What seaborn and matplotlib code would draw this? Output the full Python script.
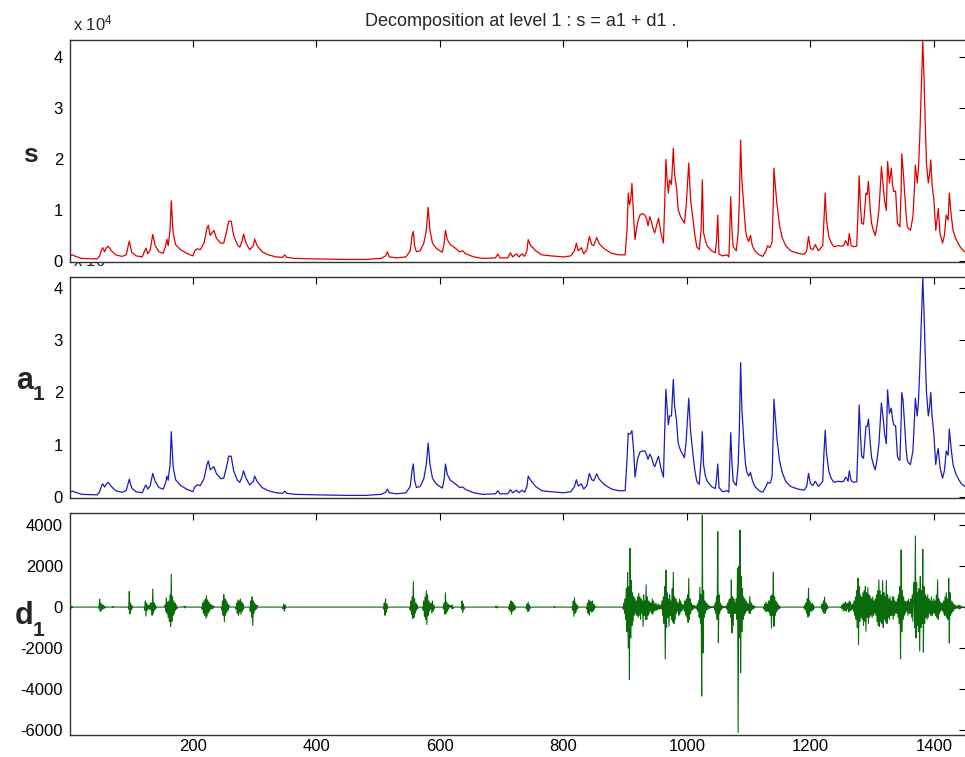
import numpy as np
import matplotlib
matplotlib.use("Agg")
import matplotlib.pyplot as plt
import seaborn as sns

# ---------------- data ----------------
# s and a1 are given in units of 10^4 (as on the axes), as polylines through
# the turning points.
s_x_A = [1, 5, 10, 20, 45, 49, 52, 54, 57, 60, 63, 68, 75, 85, 92, 97, 101, 108, 118, 122,
         124, 127, 131, 135, 139, 145, 152, 156, 158, 160, 163, 165, 168, 172, 180, 190, 200]
s_A = [.10, .12, .09, .05, .04, .10, .22, .26, .18, .26, .29, .20, .12, .09, .12, .39, .17, .10, .08, .20,
       .25, .14, .22, .52, .30, .18, .15, .30, .43, .30, .60, 1.18, .55, .32, .22, .15, .10]
a1_A = [.10, .11, .09, .05, .04, .10, .21, .25, .19, .25, .28, .20, .12, .09, .12, .34, .17, .10, .08, .19,
        .23, .15, .22, .45, .30, .18, .15, .28, .40, .32, .62, 1.25, .58, .33, .22, .15, .10]

s_x_B = [203, 207, 212, 218, 223, 225, 228, 234, 238, 245, 250, 255, 258, 262, 266, 272, 276, 280, 282, 286,
         292, 298, 300, 304, 312, 322, 335, 345, 349, 352, 365]
s_B = [.20, .24, .22, .35, .65, .70, .50, .60, .45, .35, .35, .60, .78, .78, .50, .32, .27, .40, .53, .35,
       .22, .30, .43, .30, .18, .12, .08, .07, .12, .07, .05]
a1_B = [.19, .23, .22, .35, .63, .69, .52, .58, .45, .35, .36, .60, .78, .78, .50, .32, .28, .40, .50, .36,
        .23, .30, .40, .30, .18, .12, .08, .07, .11, .07, .05]

s_x_C = [400, 450, 480, 505, 512, 515, 518, 530, 545, 552, 555, 557, 559, 562, 568, 574, 578, 581, 584, 588,
         594, 600, 604, 607, 609, 612, 617, 625, 632, 637, 642, 655, 670, 690, 694, 697]
s_C = [.04, .03, .03, .05, .10, .18, .08, .06, .08, .20, .50, .58, .30, .18, .20, .35, .60, 1.05, .60, .35,
       .25, .20, .17, .35, .60, .42, .32, .25, .18, .20, .14, .08, .05, .06, .14, .06]
a1_C = [.04, .03, .03, .05, .09, .15, .08, .06, .08, .20, .52, .63, .32, .18, .20, .35, .62, 1.03, .62, .36,
        .25, .20, .17, .35, .63, .43, .32, .25, .18, .19, .14, .08, .05, .06, .12, .06]

s_x_D = [710, 714, 718, 724, 728, 733, 737, 741, 743, 747, 750, 755, 765, 780, 800, 812, 818, 821, 824, 829,
         833, 838, 842, 846, 849, 854, 858, 866, 878, 890, 900]
s_D = [.06, .16, .08, .14, .08, .14, .09, .20, .42, .30, .27, .20, .12, .10, .08, .10, .20, .35, .20, .26,
       .14, .22, .48, .32, .30, .46, .34, .24, .15, .12, .12]
a1_D = [.06, .14, .08, .13, .08, .13, .09, .20, .40, .32, .28, .20, .12, .10, .08, .10, .20, .33, .21, .25,
        .15, .22, .45, .33, .31, .44, .34, .24, .15, .12, .12]

s_x_E = [903, 905, 907, 909, 911, 914, 916, 920, 924, 928, 932, 935, 937, 940, 943, 946, 948, 951, 954, 958,
         962, 964, 966, 968, 970, 972, 975, 978, 980, 983, 986, 990, 994, 996, 999, 1003, 1006, 1010, 1013, 1016]
s_E = [.60, 1.33, 1.10, 1.20, 1.52, .80, .42, .75, .90, .93, .90, .82, .69, .87, .75, .60, .55, .70, .84, .55,
       .35, 1.10, 1.99, 1.60, 1.33, 1.59, 1.50, 2.21, 1.70, 1.46, 1.00, .86, .78, .74, 1.10, 1.92, 1.20, .80, .50, .28]
a1_E = [.70, 1.22, 1.20, 1.22, 1.27, .85, .38, .72, .86, .88, .88, .80, .72, .82, .75, .62, .58, .68, .78, .55,
        .38, 1.20, 2.06, 1.70, 1.38, 1.55, 1.55, 2.25, 1.75, 1.48, 1.02, .88, .80, .75, 1.10, 1.89, 1.25, .80, .50, .30]

s_x_F = [1020, 1023, 1025, 1027, 1030, 1033, 1040, 1046, 1048, 1050, 1052, 1058, 1065, 1068, 1069, 1071,
         1073, 1075, 1080, 1083, 1085, 1087, 1089, 1092, 1095, 1097, 1100, 1103, 1106, 1110, 1117, 1123]
s_F = [.22, .60, 1.59, .55, .40, .29, .20, .16, .40, .90, .13, .10, .12, .08, .40, 1.26,
       .60, .28, .20, .55, 1.20, 2.37, 1.60, 1.10, .60, .47, .38, .50, .30, .20, .12, .09]
a1_F = [.24, .70, 1.25, .62, .40, .30, .20, .16, .35, .63, .18, .10, .12, .09, .50, 1.23,
        .65, .30, .22, .60, 1.30, 2.57, 1.70, 1.10, .62, .48, .40, .47, .32, .20, .12, .09]

s_x_G = [1128, 1131, 1134, 1136, 1138, 1140, 1141, 1143, 1146, 1150, 1154, 1160, 1168, 1180, 1190, 1194,
         1197, 1200, 1204, 1208, 1213, 1220, 1222, 1224, 1226, 1230, 1234, 1238, 1245, 1250, 1254, 1257,
         1259, 1261, 1263, 1266, 1270, 1275]
s_G = [.20, .30, .26, .30, .38, 1.20, 1.82, 1.50, 1.10, .70, .47, .30, .20, .15, .13, .20,
       .48, .25, .22, .32, .20, .30, .80, 1.33, .80, .47, .35, .28, .30, .29, .30, .40,
       .35, .30, .54, .30, .28, .29]
a1_G = [.20, .28, .26, .30, .40, 1.30, 1.87, 1.55, 1.10, .70, .48, .30, .20, .15, .13, .20,
        .45, .26, .22, .30, .20, .30, .85, 1.28, .85, .48, .35, .28, .30, .29, .30, .38,
        .35, .30, .50, .31, .28, .29]

s_x_H = [1277, 1279, 1281, 1283, 1286, 1288, 1290, 1292, 1294, 1297, 1299, 1302, 1305, 1308, 1311,
         1313, 1315, 1318, 1320, 1323, 1325, 1328, 1331, 1333, 1335, 1338, 1341, 1343, 1345, 1347,
         1348, 1350, 1352, 1355, 1357, 1360, 1362, 1366, 1368, 1370, 1373, 1375, 1377, 1380, 1382,
         1384, 1386, 1388, 1391, 1393, 1395, 1397, 1400, 1403, 1405, 1407, 1410, 1414, 1417, 1420,
         1423, 1425, 1428, 1431, 1435, 1439, 1444, 1450]
s_H = [.90, 1.67, 1.10, .74, .72, 1.00, 1.33, 1.30, 1.56, 1.00, .74, .60, .50, .70, 1.00,
       1.40, 1.85, 1.46, 1.20, .99, 1.95, 1.53, 1.82, 1.50, 1.36, 1.37, .74, .70, .67, 1.40,
       2.10, 1.80, 1.46, .90, .67, .62, .60, .86, 1.30, 1.88, 1.53, 1.80, 2.37, 3.50, 4.30,
       3.60, 2.70, 1.90, 1.53, 1.70, 1.98, 1.50, 1.20, .60, .80, 1.03, .54, .35, .50, .90,
       .80, 1.33, .90, .60, .45, .35, .25, .18]
a1_H = [.95, 1.76, 1.20, .78, .74, 1.05, 1.35, 1.35, 1.49, 1.02, .76, .62, .52, .72, 1.02,
        1.40, 1.80, 1.50, 1.22, 1.02, 2.05, 1.60, 1.70, 1.50, 1.38, 1.36, .78, .72, .70, 1.50,
        2.00, 1.85, 1.50, .92, .70, .64, .62, .88, 1.35, 1.89, 1.55, 1.82, 2.40, 3.50, 4.19,
        3.55, 2.70, 2.00, 1.55, 1.72, 2.00, 1.55, 1.20, .62, .80, .93, .56, .36, .50, .88,
        .80, 1.30, .92, .62, .46, .36, .26, .20]

# d1: detail coefficients, read as bursts of oscillation (start index, values at
# consecutive samples); the signal is flat at 0 between bursts.
d1_burst_start = [2, 48, 70, 96, 122, 155, 186, 215, 232, 247, 270, 293, 346, 509, 552, 573, 606,
                  618, 635, 690, 712, 740, 785, 815, 838, 897, 1125, 1190, 1218, 1250]
d1_burst_vals = [
    [60, -50, 40, -30],
    [-60, 390, -210, 200, -150, 120, -100, 80, -60, 50, -40],
    [30, -30, 20],
    [-100, 760, -330, 200, -150, 80, -50],
    [-150, 300, -440, 200, -150, 100, -80, 60, -100, 200, -150, 200, -400, 880, -300, 200, -150, 100, -60],
    [100, -200, 450, -300, 250, -500, 300, -700, 600, -940, 1600, -700, 500, -400, 300, -300, 200, -150, 100, -80],
    [40, -40, 30],
    [-100, 200, -300, 300, -400, 400, -550, 550, -450, 350, -300, 250, -200, 150, -100, 100, -80],
    [60, -50, 40],
    [-150, 300, -400, 620, -720, 400, -400, 300, -250, 200, -150, 100],
    [-100, 200, -300, 350, -400, 300, -250, 400, -350, 250, -200, 150, -100],
    [-200, 300, -500, 500, -900, 300, -300, 200, -150, 100, -100, 80],
    [-80, 150, -200, 100, -60],
    [-100, 200, -400, 400, -250, 150, -80],
    [-150, 300, -350, 500, -550, 1250, -500, 400, -300, 200, -150, 100, -80],
    [-150, 300, -450, 500, -600, 800, -850, 600, -400, 300, -200, 150, -100, 200, -300, 300, -200, 100, -80],
    [-100, 200, -350, 700, -300, 250, -200, 150, -100, 80],
    [80, -60, 100, -80],
    [-100, 300, -250, 150, -100],
    [40, -40, 50, -30],
    [-100, 150, -200, 300, -350, 250, -200, 200, -150, 100, -80],
    [-80, 150, -200, 250, -200, 100, -60],
    [30, -30],
    [-150, 300, -450, 450, -300, 200, -200, 100, -80],
    [-100, 200, -300, 350, -400, 300, -200, 250, -250, 300, -200, 150, -100, 60],
    [-100, 200, -300, 400, -600, 900, -1200, 1700, -2000, 1000,
     -3530, 2870, -1500, 1300, -900, 700, -700, 500, -400, 400,
     -300, 300, -400, 500, -500, 680, -400, 500, -600, 400,
     -300, 300, -940, 600, -400, 300, -600, 1090, -600, 500,
     -400, 300, -300, 250, -200, 200, -300, 400, -350, 300,
     -200, 150, -150, 200, -150, 100, -100, 150, -100, 80,
     -80, 100, -100, 300, -400, 500, -800, 1000, -2530, 1810,
     -1000, 700, -500, 400, -940, 600, -400, 300, -600, 900,
     -700, 1690, -800, 500, -600, 400, -300, 250, -200, 200,
     -400, 400, -300, 300, -200, 150, -150, 100, 100, -200,
     300, -400, 400, -500, 600, -750, 1400, -600, 400, -300,
     200, -150, 100, -100, 80, -60, 60, -50, 40, -100,
     150, -200, 300, -500, 970, -800, 600, -4340, 4490, -2240,
     800, -500, 300, -300, 200, -150, 150, -100, 80, -60,
     50, -40, 30, -30, 30, -30, 40, 50, -150, 200,
     -300, 500, -600, 3680, -1750, 600, -300, 200, -150, 100,
     -60, 40, -30, 30, -30, 30, -30, 60, -100, 200,
     -300, 350, -300, 400, -500, 1330, -1260, 500, -900, 400,
     -300, 200, -300, 400, -600, 1900, -6120, 2000, -1500, 3760,
     -3200, 1500, -1200, 900, -600, 500, -400, 400, -300, 300,
     -200, 200, -150, 150, -300, 520, -300, 200, -150, 100,
     -80, 60, -50, 40],
    [-100, 150, -200, 250, -200, 150, -200, 300, -250, 300, -400, 520, -1020, 600, -400, 1690, -940,
     500, -400, 300, -250, 200, -150, 100, -80, 60, -40],
    [-60, 100, -150, 200, -300, 400, -490, 920, -400, 300, -200, 150, -200, 200, -150, 100, -60],
    [-80, 150, -200, 300, -300, 490, -300, 200, -150, 100, -60],
    [-50, 80, -100, 150, -200, 200, -150, 250, -200, 150,
     -100, 200, -250, 300, -200, 250, -150, 100, -100, 150,
     -200, 300, -400, 500, -600, 800, -1000, 1410, -1830, 1000,
     -700, 600, -500, 500, -600, 700, -900, 800, -700, 1000,
     -1180, 700, -500, 950, -800, 600, -500, 500, -400, 400,
     -500, 500, -400, 300, -300, 400, -400, 600, -700, 800,
     -900, 1330, -940, 800, -700, 600, -800, 1300, -1000, 700,
     -600, 500, -700, 1300, -800, 600, -500, 400, -600, 500,
     -400, 300, -400, 500, -600, 500, -400, 300, -300, 250,
     -300, 400, -500, 600, -800, 1000, -2530, 2790, -1200, 800,
     -600, 500, -400, 300, -300, 250, -200, 300, -400, 400,
     -300, 250, -300, 400, -500, 600, -700, 900, 1200, -1000,
     3470, -1500, 1200, -900, 700, -1200, 900, -2150, 1500, -1000,
     800, -800, 2820, -2200, 1000, -800, 600, -500, 500, -600,
     600, -500, 400, -300, 300, -400, 500, -400, 300, -300,
     400, -300, 300, -400, 600, -500, 1330, -600, 400, -300,
     250, -200, 200, -150, 200, -250, 300, -400, 500, -400,
     700, -500, 400, -600, 1410, -1750, 700, -400, 300, -300,
     250, -200, 150, -100, 100, -80, 60, -60, 50, -50,
     100, -100, 80, -60, 40],
]
n_samples = 1452

title_text = "Decomposition at level 1 : s = a1 + d1 ."
top_ticks = [0, 1, 2, 3, 4]
d1_ticks = [-6000, -4000, -2000, 0, 2000, 4000]
x_ticks = [200, 400, 600, 800, 1000, 1200, 1400]

# ---------------- assemble series ----------------
s_x = s_x_A + s_x_B + s_x_C + s_x_D + s_x_E + s_x_F + s_x_G + s_x_H
s_val = s_A + s_B + s_C + s_D + s_E + s_F + s_G + s_H
a1_val = a1_A + a1_B + a1_C + a1_D + a1_E + a1_F + a1_G + a1_H
assert len(s_x) == len(s_val) == len(a1_val)

d1_x = np.arange(1, n_samples + 1)
d1_val = np.zeros(n_samples)
for st, vals in zip(d1_burst_start, d1_burst_vals):
    d1_val[st - 1: st - 1 + len(vals)] = vals

# ---------------- drawing ----------------
sns.set_theme(style="white")
plt.rcParams["font.family"] = ["Liberation Sans", "DejaVu Sans"]
plt.rcParams["mathtext.default"] = "regular"
plt.rcParams["axes.unicode_minus"] = False

W, H = 965, 757
fig = plt.figure(figsize=(W / 100, H / 100), dpi=100)


def px_axes(left, top, right, bottom):
    return fig.add_axes([left / W, 1 - bottom / H, (right - left) / W, (bottom - top) / H])


ax1 = px_axes(70, 40, 966, 262)
ax2 = px_axes(70, 277, 966, 498)
ax3 = px_axes(70, 513, 966, 735)
ax1.set_zorder(3)
ax2.set_zorder(2)
ax3.set_zorder(1)

sns.lineplot(x=s_x, y=s_val, ax=ax1, color="#e00000", linewidth=0.9,
             estimator=None, sort=False, legend=False)
sns.lineplot(x=s_x, y=a1_val, ax=ax2, color="#1c1cb8", linewidth=0.9,
             estimator=None, sort=False, legend=False)
sns.lineplot(x=d1_x, y=d1_val, ax=ax3, color="#0b6a0b", linewidth=0.8,
             estimator=None, sort=False, legend=False)

tick_fs = 12
for ax in (ax1, ax2, ax3):
    ax.set_xlim(1, 1452)
    ax.set_xticks(x_ticks)
    ax.set_facecolor("white")
    ax.set_xlabel("")
    ax.set_ylabel("")
    ax.tick_params(direction="in", length=5, width=0.8, top=True, right=True,
                   labelsize=tick_fs, colors="black", pad=5)
    for sp in ax.spines.values():
        sp.set_color("#333333")
        sp.set_linewidth(1.0)

ax1.set_ylim(-0.02, 4.33)
ax1.set_yticks(top_ticks)
ax1.tick_params(labelbottom=False)
ax2.set_ylim(-0.02, 4.21)
ax2.set_yticks(top_ticks)
ax2.tick_params(labelbottom=False)
ax3.set_ylim(-6240, 4590)
ax3.set_yticks(d1_ticks)
ax3.tick_params(axis="x", pad=3)

# exponent labels (the middle one is partly hidden by the top panel, as in the original)
ax1.text(0.003, 1.03, r"x 10$^{4}$", transform=ax1.transAxes, fontsize=tick_fs,
         ha="left", va="bottom")
ax2.text(0.003, 1.035, r"x 10$^{4}$", transform=ax2.transAxes, fontsize=tick_fs,
         ha="left", va="bottom", clip_on=False)

# title
fig.text(521 / W, 1 - 22 / H, title_text, ha="center", va="center", fontsize=13)

# row labels
fig.text(30 / W, 1 - 155 / H, "s", ha="center", va="center", fontsize=19, fontweight="bold")
fig.text(25 / W, 1 - 381 / H, "a", ha="center", va="center", fontsize=22, fontweight="bold")
fig.text(38 / W, 1 - 394 / H, "1", ha="center", va="center", fontsize=15, fontweight="bold")
fig.text(24 / W, 1 - 616 / H, "d", ha="center", va="center", fontsize=22, fontweight="bold")
fig.text(38 / W, 1 - 631 / H, "1", ha="center", va="center", fontsize=15, fontweight="bold")

fig.savefig("out.png", dpi=100, facecolor="white")
